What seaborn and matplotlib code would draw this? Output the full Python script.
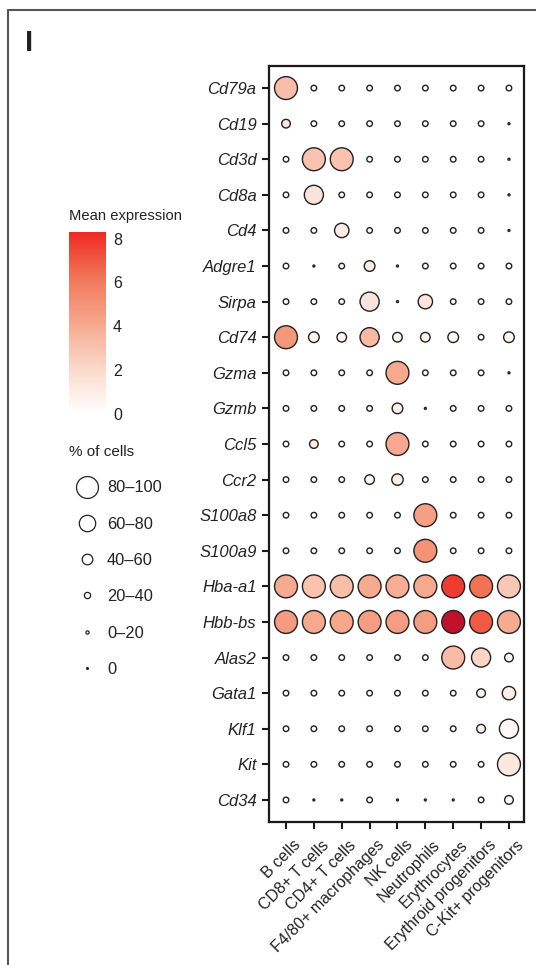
import numpy as np
import pandas as pd
import matplotlib.pyplot as plt
from matplotlib.colors import LinearSegmentedColormap, Normalize
from matplotlib.cm import ScalarMappable
from matplotlib.lines import Line2D
from matplotlib.transforms import ScaledTranslation
import seaborn as sns

# data
genes = ["Cd79a", "Cd19", "Cd3d", "Cd8a", "Cd4", "Adgre1", "Sirpa", "Cd74",
         "Gzma", "Gzmb", "Ccl5", "Ccr2", "S100a8", "S100a9", "Hba-a1", "Hbb-bs",
         "Alas2", "Gata1", "Klf1", "Kit", "Cd34"]
cell_types = ["B cells", "CD8+ T cells", "CD4+ T cells", "F4/80+ macrophages",
              "NK cells", "Neutrophils", "Erythrocytes", "Erythroid progenitors",
              "C-Kit+ progenitors"]

# mean expression, one row per gene
mean_expr = [
    [3.2, 0.1, 0.1, 0.1, 0.1, 0.1, 0.1, 0.1, 0.1],
    [1.2, 0.1, 0.1, 0.1, 0.1, 0.1, 0.1, 0.1, 0.0],
    [0.1, 3.0, 3.0, 0.1, 0.1, 0.1, 0.1, 0.1, 0.0],
    [0.1, 1.5, 0.1, 0.1, 0.1, 0.1, 0.1, 0.1, 0.0],
    [0.1, 0.1, 1.0, 0.1, 0.1, 0.1, 0.1, 0.1, 0.0],
    [0.1, 0.0, 0.1, 1.1, 0.0, 0.1, 0.1, 0.1, 0.1],
    [0.1, 0.1, 0.1, 1.5, 0.0, 1.4, 0.1, 0.1, 0.1],
    [4.8, 0.5, 0.5, 3.4, 0.6, 0.7, 0.4, 0.2, 0.5],
    [0.1, 0.1, 0.1, 0.1, 4.1, 0.1, 0.1, 0.1, 0.0],
    [0.1, 0.1, 0.1, 0.1, 0.9, 0.0, 0.1, 0.1, 0.1],
    [0.1, 1.1, 0.1, 0.1, 4.1, 0.1, 0.1, 0.1, 0.1],
    [0.1, 0.1, 0.1, 0.6, 0.8, 0.1, 0.1, 0.1, 0.1],
    [0.1, 0.1, 0.1, 0.1, 0.1, 4.5, 0.1, 0.1, 0.1],
    [0.1, 0.1, 0.1, 0.1, 0.1, 5.0, 0.1, 0.1, 0.1],
    [4.0, 3.0, 3.2, 4.0, 3.9, 4.1, 7.8, 6.3, 2.8],
    [4.7, 4.1, 4.2, 4.6, 4.6, 4.6, 10.0, 7.0, 4.0],
    [0.1, 0.1, 0.1, 0.1, 0.1, 0.1, 3.3, 2.2, 0.3],
    [0.1, 0.1, 0.1, 0.1, 0.1, 0.1, 0.1, 0.7, 0.9],
    [0.1, 0.1, 0.1, 0.1, 0.1, 0.1, 0.1, 0.8, 0.4],
    [0.1, 0.1, 0.1, 0.1, 0.1, 0.1, 0.1, 0.1, 1.2],
    [0.1, 0.0, 0.0, 0.1, 0.0, 0.0, 0.0, 0.1, 0.3],
]

# % of cells expressing, one row per gene
pct_cells = [
    [95, 5, 5, 5, 5, 5, 5, 5, 5],
    [13, 5, 5, 5, 5, 5, 5, 5, 0],
    [5, 95, 95, 5, 5, 5, 5, 5, 0],
    [5, 66, 5, 5, 5, 5, 5, 5, 0],
    [5, 5, 37, 5, 5, 5, 5, 5, 0],
    [5, 0, 5, 20, 0, 5, 5, 5, 5],
    [5, 5, 5, 66, 0, 37, 5, 5, 5],
    [95, 20, 16, 66, 16, 16, 20, 5, 20],
    [5, 5, 5, 5, 95, 5, 5, 5, 0],
    [5, 5, 5, 5, 20, 0, 5, 5, 5],
    [5, 13, 5, 5, 95, 5, 5, 5, 5],
    [5, 5, 5, 16, 23, 5, 5, 5, 5],
    [5, 5, 5, 5, 5, 95, 5, 5, 5],
    [5, 5, 5, 5, 5, 95, 5, 5, 5],
    [95, 95, 95, 95, 95, 95, 95, 95, 95],
    [95, 95, 95, 95, 95, 95, 95, 95, 95],
    [5, 5, 5, 5, 5, 5, 95, 66, 13],
    [5, 5, 5, 5, 5, 5, 5, 13, 32],
    [5, 5, 5, 5, 5, 5, 5, 13, 66],
    [5, 5, 5, 5, 5, 5, 5, 5, 95],
    [5, 0, 0, 5, 0, 0, 0, 5, 13],
]

size_bins = ["80–100", "60–80", "40–60", "20–40", "0–20", "0"]
cbar_ticks = [0, 2, 4, 6, 8]

df = pd.DataFrame({
    "gene": np.repeat(genes, len(cell_types)),
    "cell": np.tile(cell_types, len(genes)),
    "expr": np.ravel(mean_expr),
    "pct": np.ravel(pct_cells),
})

sns.set_style("white")
plt.rcParams["font.family"] = ["Liberation Sans", "DejaVu Sans"]
plt.rcParams["text.color"] = "#222222"

cmap = LinearSegmentedColormap.from_list(
    "expr", [(0, "#ffffff"), (0.25, "#fbd8ca"), (0.5, "#f6a88d"),
             (0.75, "#f17658"), (1, "#ee2a24")])
cmap.set_over("#c0102c")
norm = Normalize(vmin=0, vmax=8.3)

fig = plt.figure(figsize=(5.36, 9.65), dpi=100)
ax = fig.add_axes([269 / 536, 1 - 822 / 965, 255 / 536, 756 / 965])

sns.scatterplot(data=df, x="cell", y="gene", hue="expr", palette=cmap,
                hue_norm=norm, size="pct", sizes=(2, 286), size_norm=(0, 100),
                edgecolor="#222222", linewidth=1.0, legend=False, ax=ax)

ax.set_xlim(-0.61, 8.54)
ax.set_ylim(20.62, -0.62)
ax.set_xlabel("")
ax.set_ylabel("")
for sp in ax.spines.values():
    sp.set_visible(True)
    sp.set_linewidth(1.6)
    sp.set_color("#1a1a1a")
ax.tick_params(axis="both", length=5, width=1.5, direction="out", color="#1a1a1a",
               labelcolor="#222222", bottom=True, left=True, pad=4)
ax.tick_params(axis="y", labelsize=12)
ax.tick_params(axis="x", labelsize=11.5)
for lab in ax.get_yticklabels():
    lab.set_fontstyle("italic")
shift = ScaledTranslation(7 / 100, -3 / 100, fig.dpi_scale_trans)
for lab in ax.get_xticklabels():
    lab.set_rotation(45)
    lab.set_ha("right")
    lab.set_va("top")
    lab.set_rotation_mode("anchor")
    lab.set_transform(lab.get_transform() + shift)

# colour bar
cax = fig.add_axes([69 / 536, 1 - 414 / 965, 37 / 536, 182 / 965])
cb = fig.colorbar(ScalarMappable(norm=norm, cmap=cmap), cax=cax, ticks=cbar_ticks)
cb.outline.set_visible(False)
cax.tick_params(axis="y", direction="in", color="white", length=5, width=1,
                left=True, right=True, labelsize=11.5, labelcolor="#222222", pad=5)
fig.text(69 / 536, 1 - 216 / 965, "Mean expression", fontsize=10.6,
         ha="left", va="center")

# size legend
ms = [15.8, 11.8, 7.6, 4.5, 2.3, 1.3]
handles = [Line2D([], [], marker="o", linestyle="", markersize=m,
                  markerfacecolor="white" if lbl != "0" else "#222222",
                  markeredgecolor="#222222", markeredgewidth=0.9)
           for m, lbl in zip(ms, size_bins)]
fig.legend(handles, size_bins, loc="upper left",
           bbox_to_anchor=(69 / 536, 1 - 445 / 965), frameon=False,
           title="% of cells", title_fontsize=11, fontsize=11.8,
           handlelength=2.2, handletextpad=0.12, labelspacing=1.3,
           borderpad=0, borderaxespad=0, alignment="left")

# panel letter and frame
fig.text(25 / 536, 1 - 29 / 965, "I", fontsize=21, fontweight="bold",
         ha="left", va="top")
fig.add_artist(Line2D([8 / 536, 1], [1 - 10 / 965, 1 - 10 / 965],
                      transform=fig.transFigure, color="#555555", lw=1.5))
fig.add_artist(Line2D([8 / 536, 8 / 536], [0, 1 - 10 / 965],
                      transform=fig.transFigure, color="#555555", lw=1.5))

fig.savefig("out.png", dpi=100, facecolor="white")
